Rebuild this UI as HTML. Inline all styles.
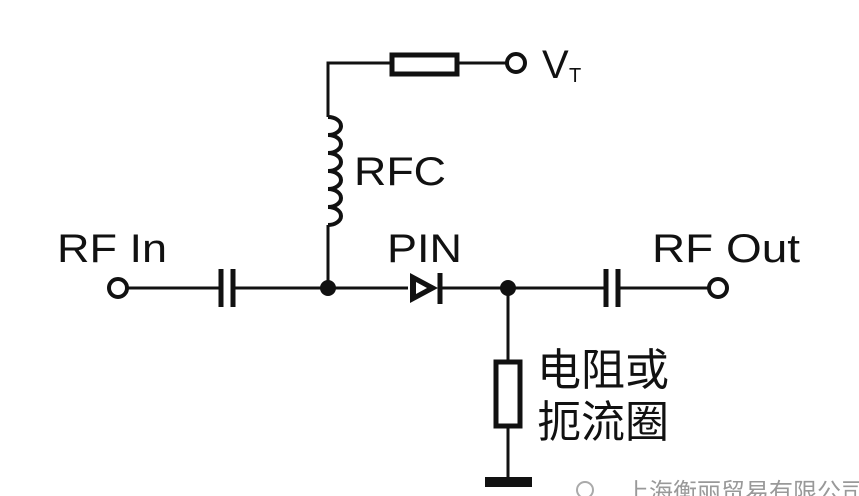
<!DOCTYPE html>
<html><head><style>
html,body{margin:0;padding:0;background:#fff;}
svg{display:block;}
text{font-family:"Liberation Sans","Noto Sans CJK SC",sans-serif;fill:#111;}
</style></head><body>
<svg width="859" height="496" viewBox="0 0 859 496" xmlns="http://www.w3.org/2000/svg">
<g stroke="#111" stroke-width="3" fill="none">
<line x1="127" y1="288" x2="220" y2="288"/>
<line x1="233" y1="288" x2="408" y2="288"/>
<line x1="440" y1="288" x2="605" y2="288"/>
<line x1="618" y1="288" x2="709" y2="288"/>
<circle cx="118" cy="288" r="9" stroke-width="4"/>
<circle cx="718" cy="288" r="9" stroke-width="4"/>
<line x1="221" y1="269" x2="221" y2="307" stroke-width="5"/>
<line x1="233" y1="269" x2="233" y2="307" stroke-width="5"/>
<line x1="606" y1="269" x2="606" y2="307" stroke-width="5"/>
<line x1="618" y1="269" x2="618" y2="307" stroke-width="5"/>
<polyline points="328,288 328,225"/>
<path d="M328,225 a13,9 0 0 0 0,-18 a13,9 0 0 0 0,-18 a13,9 0 0 0 0,-18 a13,9 0 0 0 0,-18 a13,9 0 0 0 0,-18 a13,9 0 0 0 0,-18" stroke-width="4"/>
<polyline points="328,117 328,63 390,63"/>
<rect x="392" y="55" width="65" height="19" stroke-width="5"/>
<line x1="457" y1="63" x2="507" y2="63"/>
<circle cx="516" cy="63" r="9" stroke-width="4"/>
<line x1="508" y1="288" x2="508" y2="362"/>
<rect x="496" y="362" width="24" height="64" stroke-width="5"/>
<line x1="508" y1="426" x2="508" y2="480"/>
</g>
<polygon points="410,273 410,303 438,288" fill="#111"/>
<line x1="440" y1="273" x2="440" y2="304" stroke="#111" stroke-width="5"/>
<polygon points="416,282 416,294 427,288" fill="#fff"/>
<circle cx="328" cy="288" r="8" fill="#111"/>
<circle cx="508" cy="288" r="8" fill="#111"/>
<rect x="485" y="477" width="47" height="10" fill="#111"/>
<text x="57" y="262" font-size="40" textLength="110" lengthAdjust="spacingAndGlyphs">RF In</text>
<text x="652" y="262" font-size="40" textLength="148" lengthAdjust="spacingAndGlyphs">RF Out</text>
<text x="387" y="262" font-size="40" textLength="75" lengthAdjust="spacingAndGlyphs">PIN</text>
<text x="354" y="185" font-size="40" textLength="92" lengthAdjust="spacingAndGlyphs">RFC</text>
<text x="542" y="78" font-size="40">V</text>
<text x="569" y="82" font-size="20">T</text>
<text x="537" y="385" font-size="44">电阻或</text>
<text x="537" y="437" font-size="44">扼流圈</text>
<text x="625" y="500" font-size="24" style="fill:#999">上海衡丽贸易有限公司</text>
<circle cx="585" cy="490" r="8" fill="none" stroke="#aaa" stroke-width="2"/>
</svg>
</body></html>
